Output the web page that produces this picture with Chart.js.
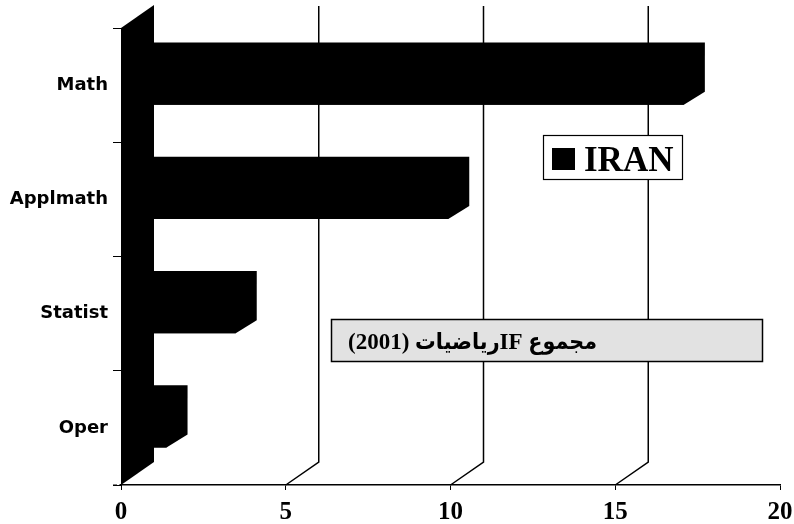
<!DOCTYPE html>
<html>
<head>
<meta charset="utf-8">
<script src="https://cdn.jsdelivr.net/npm/chart.js@4/dist/chart.umd.min.js"></script>
<style>
    body { margin: 0; background: #fff; }
    canvas { display: block; }
</style>
</head>
<body>
<canvas id="if-chart" width="794" height="524"></canvas>
<script>
const categories = ["Math", "Applmath", "Statist", "Oper"];
const iranValues = [16.9, 9.75, 3.3, 1.2];
const xTickValues = [0, 5, 10, 15, 20];
const seriesName = "IRAN";
const titleText = "مجموع IFرياضيات (2001)";

// 3d look: depth of the side wall and of the bars
const WALL_DX = 33, WALL_DY = -23;
const BAR_DX = 21, BAR_DY = -13;
const BAR_SHIFT_X = 6, BAR_SHIFT_Y = -5;

const fakeThreeD = {
    id: "fakeThreeD",
    beforeDatasetsDraw(chart) {
        const { ctx, chartArea: a, scales } = chart;
        const x = scales.x;
        ctx.save();
        ctx.strokeStyle = "#000";
        ctx.lineWidth = 1.5;
        // back wall grid lines with their floor diagonals
        xTickValues.slice(1, -1).forEach((v) => {
            const px = x.getPixelForValue(v);
            ctx.beginPath();
            ctx.moveTo(px + WALL_DX, a.top + WALL_DY + 1);
            ctx.lineTo(px + WALL_DX, a.bottom + WALL_DY);
            ctx.lineTo(px, a.bottom);
            ctx.stroke();
        });
        // short dashed stub of the floor line left of the wall
        ctx.lineWidth = 1;
        ctx.setLineDash([4, 2]);
        ctx.beginPath();
        ctx.moveTo(a.left - 8, a.bottom);
        ctx.lineTo(a.left, a.bottom);
        ctx.stroke();
        ctx.setLineDash([]);
        // black side wall at zero
        const x0 = x.getPixelForValue(0);
        ctx.fillStyle = "#000";
        ctx.beginPath();
        ctx.moveTo(x0, a.top);
        ctx.lineTo(x0 + WALL_DX, a.top + WALL_DY);
        ctx.lineTo(x0 + WALL_DX, a.bottom + WALL_DY);
        ctx.lineTo(x0, a.bottom);
        ctx.closePath();
        ctx.fill();
        ctx.restore();

        ctx.save();
        ctx.translate(BAR_SHIFT_X, BAR_SHIFT_Y);
    },
    afterDatasetsDraw(chart) {
        const { ctx } = chart;
        const meta = chart.getDatasetMeta(0);
        ctx.fillStyle = chart.data.datasets[0].backgroundColor;
        meta.data.forEach((bar) => {
            const p = bar.getProps(["x", "y", "base", "height"], true);
            const top = p.y - p.height / 2;
            const bottom = p.y + p.height / 2;
            // whole silhouette of the box so no seams show between faces
            ctx.beginPath();
            ctx.moveTo(p.base, bottom);
            ctx.lineTo(p.x, bottom);
            ctx.lineTo(p.x + BAR_DX, bottom + BAR_DY);
            ctx.lineTo(p.x + BAR_DX, top + BAR_DY);
            ctx.lineTo(p.base + BAR_DX, top + BAR_DY);
            ctx.lineTo(p.base, top);
            ctx.closePath();
            ctx.fill();
        });
        ctx.restore();
    },
    afterDraw(chart) {
        const { ctx } = chart;
        ctx.save();
        // legend box
        ctx.fillStyle = "#fff";
        ctx.fillRect(543, 135, 139, 44);
        ctx.strokeStyle = "#000";
        ctx.lineWidth = 1.2;
        ctx.strokeRect(543.5, 135.5, 139, 44);
        ctx.fillStyle = chart.data.datasets[0].backgroundColor;
        ctx.fillRect(552, 148, 23, 22);
        ctx.fillStyle = "#000";
        ctx.font = "bold 35px 'Liberation Serif'";
        ctx.textBaseline = "alphabetic";
        ctx.fillText(chart.data.datasets[0].label, 584, 171);

        // title box
        ctx.fillStyle = "#e2e2e2";
        ctx.fillRect(331, 319, 432, 43);
        ctx.lineWidth = 1.5;
        ctx.strokeRect(331.5, 319.5, 431, 42);
        ctx.fillStyle = "#000";
        ctx.font = "bold 23px 'Liberation Serif', 'DejaVu Sans Condensed', 'DejaVu Sans'";
        ctx.direction = "rtl";
        ctx.textAlign = "right";
        ctx.fillText(titleText, 597, 349);
        ctx.restore();
    },
};

new Chart(document.getElementById("if-chart"), {
    type: "bar",
    data: {
        labels: categories,
        datasets: [
            {
                label: seriesName,
                data: iranValues,
                backgroundColor: "#000",
                borderWidth: 0,
                barPercentage: 0.43,
                categoryPercentage: 1,
            },
        ],
    },
    options: {
        indexAxis: "y",
        responsive: false,
        animation: false,
        layout: {
            padding: { top: 28, right: 14, left: 0, bottom: 0 },
        },
        scales: {
            x: {
                min: 0,
                max: 20,
                afterBuildTicks: (scale) => {
                    scale.ticks = xTickValues.map((v) => ({ value: v }));
                },
                afterFit: (scale) => {
                    scale.height = 39;
                    scale.paddingLeft = 0;
                    scale.paddingRight = 0;
                },
                grid: {
                    drawOnChartArea: false,
                    tickLength: 5,
                    color: "#000",
                },
                border: { display: true, color: "#000", width: 1.5 },
                ticks: {
                    color: "#000",
                    padding: 8,
                    font: { family: "'Liberation Serif'", size: 25, weight: "bold" },
                },
            },
            y: {
                afterFit: (scale) => {
                    scale.width = 121;
                },
                grid: {
                    offset: true,
                    drawOnChartArea: false,
                    tickLength: 8,
                    color: "#000",
                },
                border: { display: true, color: "#000" },
                ticks: {
                    color: "#000",
                    padding: 5,
                    font: { family: "'DejaVu Sans'", size: 18, weight: "bold" },
                },
            },
        },
        plugins: {
            legend: { display: false },
            tooltip: { enabled: false },
        },
    },
    plugins: [fakeThreeD],
});
</script>
</body>
</html>
